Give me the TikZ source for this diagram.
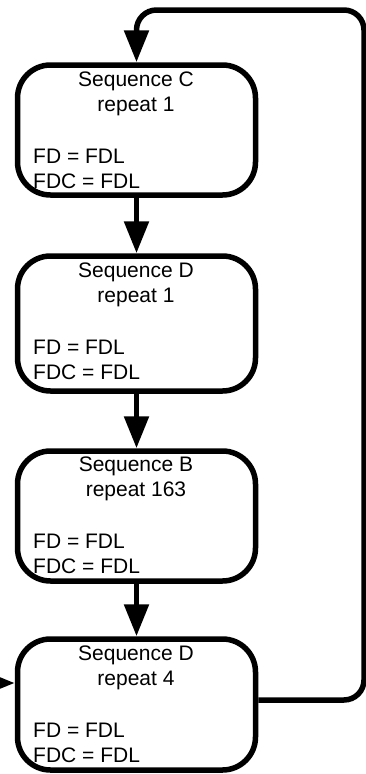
\documentclass[tikz,border=0pt]{standalone}
\usepackage{fontspec}
\setmainfont{Liberation Sans}
\usetikzlibrary{arrows.meta}
\begin{document}
\begin{tikzpicture}[x=1pt,y=-1pt,
  seqbox/.style={draw, line width=5.5pt, rounded corners=33pt, minimum width=238pt, minimum height=#1, inner sep=0pt},
  txt/.style={font=\fontsize{21}{25}\selectfont, inner sep=0pt},
  flow/.style={line width=5.5pt, -{Triangle[width=24pt,length=32pt]}}]
\clip (0,0) rectangle (366,774);
% boxes
\node[seqbox=130pt] (c)  at (136.5,130)   {};
\node[seqbox=135pt] (d1) at (136.5,323.5) {};
\node[seqbox=130pt] (b)  at (136.5,516)   {};
\node[seqbox=131pt] (d2) at (136.5,704.5) {};
% texts box C (top 65)
\node[txt, anchor=base] (c1) at (136,86) {Sequence C};
\node[txt, anchor=base] (c2) at (136,111) {repeat 1};
\node[txt, anchor=base west] (c3) at (33,163) {FD = FDL};
\node[txt, anchor=base west] (c4) at (33,188) {FDC = FDL};
% texts box D (top 256)
\node[txt, anchor=base] (e1) at (136,277) {Sequence D};
\node[txt, anchor=base] (e2) at (136,302) {repeat 1};
\node[txt, anchor=base west] (e3) at (33,354) {FD = FDL};
\node[txt, anchor=base west] (e4) at (33,379) {FDC = FDL};
% texts box B (top 451)
\node[txt, anchor=base] (f1) at (136,471) {Sequence B};
\node[txt, anchor=base] (f2) at (136,496) {repeat 163};
\node[txt, anchor=base west] (f3) at (33,548) {FD = FDL};
\node[txt, anchor=base west] (f4) at (33,573) {FDC = FDL};
% texts box D (top 639)
\node[txt, anchor=base] (g1) at (136,660) {Sequence D};
\node[txt, anchor=base] (g2) at (136,685) {repeat 4};
\node[txt, anchor=base west] (g3) at (33,737) {FD = FDL};
\node[txt, anchor=base west] (g4) at (33,762) {FDC = FDL};
% connectors
\draw[flow] (c) -- (d1);
\draw[flow] (d1) -- (b);
\draw[flow] (b) -- (d2);
\coordinate (loopR) at (364,700);
\coordinate (loopTR) at (364,10);
\coordinate (loopTL) at (136.5,10);
\draw[flow, rounded corners=20pt] (d2.east |- loopR) -- (loopR) -- (loopTR) -- (loopTL) -- (c.north);
\coordinate (inL) at (-40,683);
\draw[flow] (inL) -- (d2.west |- inL);
\end{tikzpicture}
\end{document}
